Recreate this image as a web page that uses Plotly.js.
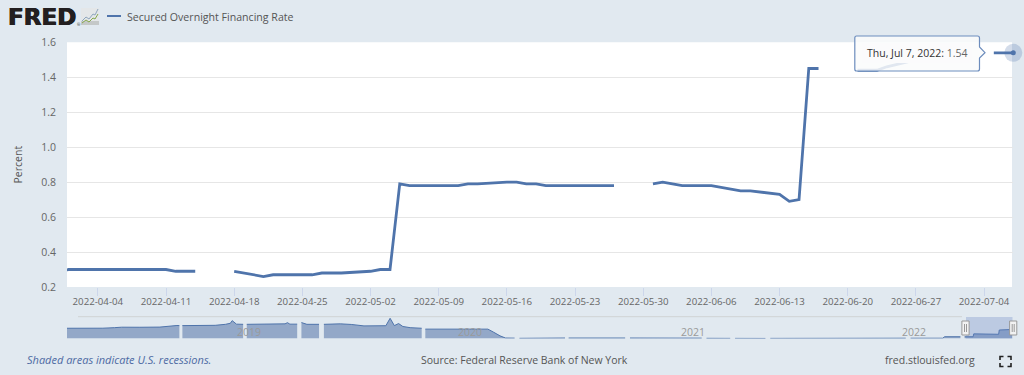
<!DOCTYPE html>
<html><head><meta charset="utf-8">
<script src="https://cdn.plot.ly/plotly-3.0.1.min.js"></script>
<style>html,body{margin:0;padding:0;background:#e1e9f0;overflow:hidden}#c{width:1024px;height:375px}</style>
</head><body><div id="c"></div>
<script>
const seriesName = 'Secured Overnight Financing Rate';
const dates = ['2022-03-31','2022-04-01','2022-04-04','2022-04-05','2022-04-06','2022-04-07','2022-04-08','2022-04-11','2022-04-12','2022-04-13','2022-04-14','2022-04-15',
'2022-04-18','2022-04-19','2022-04-20','2022-04-21','2022-04-22','2022-04-25','2022-04-26','2022-04-27','2022-04-28','2022-04-29',
'2022-05-02','2022-05-03','2022-05-04','2022-05-05','2022-05-06','2022-05-09','2022-05-10','2022-05-11','2022-05-12','2022-05-13',
'2022-05-16','2022-05-17','2022-05-18','2022-05-19','2022-05-20','2022-05-23','2022-05-24','2022-05-25','2022-05-26','2022-05-27',
'2022-05-30','2022-05-31','2022-06-01','2022-06-02','2022-06-03','2022-06-06','2022-06-07','2022-06-08','2022-06-09','2022-06-10',
'2022-06-13','2022-06-14','2022-06-15','2022-06-16','2022-06-17','2022-06-20','2022-06-21','2022-06-22','2022-06-23','2022-06-24',
'2022-06-27','2022-06-28','2022-06-29','2022-06-30','2022-07-01','2022-07-04','2022-07-05','2022-07-06','2022-07-07'];
const rates = [0.29,0.30,0.30,0.30,0.30,0.30,0.30,0.30,0.29,0.29,0.29,null,
0.29,0.28,0.27,0.26,0.27,0.27,0.27,0.28,0.28,0.28,
0.29,0.30,0.30,0.79,0.78,0.78,0.78,0.78,0.79,0.79,
0.80,0.80,0.79,0.79,0.78,0.78,0.78,0.78,0.78,0.78,
null,0.79,0.80,0.79,0.78,0.78,0.77,0.76,0.75,0.75,
0.73,0.69,0.70,1.45,1.45,null,1.44,1.44,1.44,1.46,
1.50,1.50,1.50,1.50,1.53,null,1.54,1.54,1.54];
const tickDates = ['2022-04-04','2022-04-11','2022-04-18','2022-04-25','2022-05-02','2022-05-09','2022-05-16','2022-05-23','2022-05-30','2022-06-06','2022-06-13','2022-06-20','2022-06-27','2022-07-04'];
const yTicks = [0.2,0.4,0.6,0.8,1.0,1.2,1.4,1.6];
const yLabels = ['0.2','0.4','0.6','0.8','1.0','1.2','1.4','1.6'];
const navDates = ['2018-04-03','2018-05-01','2018-06-01','2018-06-20','2018-07-02','2018-08-01','2018-09-03','2018-10-01','2018-10-05','2018-10-08','2018-10-10','2018-11-01','2018-12-03','2018-12-20','2018-12-28','2018-12-31','2019-01-07','2019-01-18','2019-01-21','2019-01-24','2019-02-15','2019-03-15','2019-03-28','2019-04-01','2019-04-05','2019-04-17','2019-04-20','2019-04-24','2019-04-29','2019-05-03','2019-05-23','2019-05-27','2019-05-31','2019-06-27','2019-07-15','2019-08-05','2019-09-10','2019-09-17','2019-09-24','2019-10-01','2019-10-08','2019-10-20','2019-11-08','2019-11-11','2019-11-14','2020-01-15','2020-02-25','2020-03-05','2020-03-16','2020-03-25','2020-04-09','2020-04-13','2020-04-17','2020-07-01','2020-07-03','2020-07-07','2020-10-08','2020-10-12','2020-10-16','2021-02-11','2021-02-15','2021-02-19','2021-03-30','2021-04-02','2021-04-07','2021-05-27','2021-05-31','2021-06-04','2021-09-01','2022-01-13','2022-01-17','2022-01-21','2022-03-15','2022-03-18','2022-04-13','2022-04-15','2022-04-20','2022-05-04','2022-05-05','2022-06-15','2022-06-16','2022-06-28','2022-06-29','2022-07-07'];
const navRates = [1.75,1.72,1.76,1.85,1.93,1.92,1.95,2.22,2.2,null,2.2,2.2,2.25,2.42,2.6,3.05,2.45,2.42,null,2.42,2.42,2.42,2.5,2.7,2.45,2.45,null,2.72,2.6,2.42,2.42,null,2.42,2.5,2.4,2.15,2.18,3.45,2.2,2.55,2.05,1.85,1.75,null,1.6,1.58,1.6,1.1,0.45,0.08,0.06,null,0.03,0.08,null,0.08,0.08,null,0.08,0.06,null,0.03,0.02,null,0.02,0.01,null,0.02,0.05,0.05,null,0.05,0.05,0.3,0.3,null,0.3,0.3,0.79,0.72,1.45,1.47,1.53,1.54];
const yearLabels = ['2019','2020','2021','2022'];
const yearDates = ['2019-01-01','2020-01-01','2021-01-01','2022-01-01'];

const W = 1024, H = 375;
const px = v => v / W, py = v => 1 - v / H;
const lineC = '#4f74ab';
function path(d, extra){
  const scaled = d.replace(/(-?[\d.]+) (-?[\d.]+)/g, (m,a,b)=> (a/W)+' '+(1-b/H));
  return Object.assign({type:'path', xref:'paper', yref:'paper', path:scaled, line:{width:0}, layer:'above'}, extra||{});
}
function rect(x0,y0,x1,y1,extra){
  return Object.assign({type:'rect', xref:'paper', yref:'paper', x0:px(x0), x1:px(x1), y0:py(y0), y1:py(y1), line:{width:0}, layer:'above'}, extra||{});
}
function txt(x,y,text,size,color,anchor,extra){
  return Object.assign({xref:'paper', yref:'paper', x:px(x), y:py(y), text:text, showarrow:false, xanchor:anchor||'left', yanchor:'middle',
    font:{family:'"Open Sans", sans-serif', size:size, color:color}, borderpad:0}, extra||{});
}
const last = dates.length - 1;
// navigator: one filled trace for each unbroken run, since a single filled trace closes over its gaps
const navRuns = [];
let run = null;
navDates.forEach((d,i)=>{
  if(navRates[i] === null){ run = null; return; }
  if(!run){ run = {x:[],y:[]}; navRuns.push(run); }
  run.x.push(d); run.y.push(navRates[i]);
});
const navTraces = navRuns.map(r=>({type:'scatter', mode:'lines', x:r.x, y:r.y, xaxis:'x2', yaxis:'y2', fill:'tozeroy',
   fillcolor:'rgba(69,103,160,0.5)', line:{color:'#4f74ab', width:1}, hoverinfo:'skip', showlegend:false}));
const traces = [
  {type:'scatter', mode:'lines', x:dates, y:rates, name:seriesName, xaxis:'x', yaxis:'y', connectgaps:false,
   line:{color:lineC, width:2.8}, hoverinfo:'skip', cliponaxis:true},
  {type:'scatter', mode:'markers', x:[dates[last]], y:[rates[last]], xaxis:'x', yaxis:'y', cliponaxis:false,
   marker:{size:18, color:'rgba(79,116,171,0.25)', line:{width:0}}, hoverinfo:'skip', showlegend:false},
  {type:'scatter', mode:'markers', x:[dates[last]], y:[rates[last]], xaxis:'x', yaxis:'y', cliponaxis:false,
   marker:{size:5, color:lineC, line:{width:0}}, hoverinfo:'skip', showlegend:false},
  ...navTraces
];
const handle = (c) => [
  rect(c-3.6,321,c+3.6,335,{fillcolor:'#f2f2f2', line:{color:'#999999', width:1}}),
  {type:'line', xref:'paper', yref:'paper', x0:px(c-1), x1:px(c-1), y0:py(324), y1:py(332), line:{color:'#999999', width:1}, layer:'above'},
  {type:'line', xref:'paper', yref:'paper', x0:px(c+1), x1:px(c+1), y0:py(324), y1:py(332), line:{color:'#999999', width:1}, layer:'above'}
];
const shapes = [
  // main plot panel
  rect(67,42.3,1012,287,{fillcolor:'#ffffff', layer:'below'}),
  // legend key
  {type:'line', xref:'paper', yref:'paper', x0:px(107), x1:px(121), y0:py(16), y1:py(16), line:{color:lineC, width:2}},
  // logo icon
  rect(81,8,99,25,{fillcolor:'#e4e7e9'}),
  rect(81,21,99,25,{fillcolor:'#c4c8c8'}),
  path('M 82 21 L 86 17 L 89 19 L 93 14 L 95 15 L 98 9',{line:{color:'#8fa6bd', width:1}}),
  path('M 82 23 L 86 20 L 89 22 L 93 18 L 95 19 L 98 14',{line:{color:'#86a84e', width:1}}),
  // navigator outline
  {type:'line', xref:'paper', yref:'paper', x0:px(78), x1:px(962), y0:py(316.7), y1:py(316.7), line:{color:'#cfd3d4', width:1}},
  // navigator selection
  rect(966,317,1012.5,338.5,{fillcolor:'rgba(102,133,194,0.3)'}),
  ...handle(965.5), ...handle(1013.2),
  // tooltip
  path('M 856.5 36 L 977.5 36 Q 979.5 36 979.5 38 L 979.5 47 L 985 52.7 L 979.5 58 L 979.5 69 Q 979.5 71 977.5 71 L 856.5 71 Q 854.8 71 854.8 69 L 854.8 38 Q 854.8 36 856.5 36 Z',
    {fillcolor:'rgba(250,251,252,0.85)', line:{color:'#6d8dbd', width:1.2}}),
  rect(862,43,972,63,{fillcolor:'#fbfbfc'}),
  // fullscreen icon
  path('M 1000 360 L 1000 356.5 L 1003.5 356.5',{line:{color:'#222222', width:1.6}}),
  path('M 1007.5 356.5 L 1011 356.5 L 1011 360',{line:{color:'#222222', width:1.6}}),
  path('M 1000 363 L 1000 366.5 L 1003.5 366.5',{line:{color:'#222222', width:1.6}}),
  path('M 1007.5 366.5 L 1011 366.5 L 1011 363',{line:{color:'#222222', width:1.6}})
];
const annotations = [
  txt(7,16.5,'<b>FRED</b>',23,'#231f20','left',{font:{family:'"DejaVu Sans", sans-serif', size:23, color:'#231f20', shadow:'0.5px 0 0 #231f20, -0.5px 0 0 #231f20'}}),
  txt(76,24,'®',4,'#231f20'),
  txt(125.5,16.5,seriesName,10.6,'#555555'),
  txt(865.5,53,'Thu, Jul 7, 2022:<span style="color:#666666"> 1.54</span>',10.5,'#333333'),
  txt(26,359.5,'<i>Shaded areas indicate U.S. recessions.</i>',11,'#4d6aa3'),
  txt(524.5,359.5,'Source: Federal Reserve Bank of New York',10.5,'#555555','center'),
  txt(884,359.5,'fred.stlouisfed.org',10.5,'#555555'),
  ...yearLabels.map((t,i)=>({xref:'x2', yref:'paper', x:yearDates[i], y:py(331.5), text:t, showarrow:false, xanchor:'left', yanchor:'middle', xshift:2,
      font:{family:'"Open Sans", sans-serif', size:10.5, color:'#9a9a9a'}}))
];
const layout = {
  width:W, height:H, margin:{l:0,r:0,t:0,b:0,pad:0}, showlegend:false,
  paper_bgcolor:'#e1e9f0', plot_bgcolor:'rgba(0,0,0,0)',
  xaxis:{domain:[px(67),px(1013.3)], type:'date', range:['2022-03-31 20:00','2022-07-07 00:00'], tickvals:tickDates, ticktext:tickDates,
    ticks:'outside', ticklen:8, tickwidth:1, tickcolor:'#ccd6eb', showgrid:false, zeroline:false, showline:false, anchor:'y',
    tickfont:{family:'"Open Sans", sans-serif', size:9.7, color:'#666666'}, tickangle:0, automargin:false, ticklabelstandoff:-3},
  yaxis:{domain:[py(287),py(42.3)], range:[0.2,1.6], tickvals:yTicks, ticktext:yLabels, gridcolor:'#e6e6e6', gridwidth:1, zeroline:false,
    showline:false, ticks:'', anchor:'x', automargin:false, tickfont:{family:'"Open Sans", sans-serif', size:10.5, color:'#666666'},
    ticklabelstandoff:10,
    title:{text:'Percent', standoff:16, font:{family:'"Open Sans", sans-serif', size:10.5, color:'#555555'}}},
  xaxis2:{domain:[px(67),px(1012)], type:'date', range:['2018-04-03','2022-07-07'], visible:false, anchor:'y2'},
  yaxis2:{domain:[py(338.5),py(317)], range:[0,3.67], visible:false, anchor:'x2'},
  shapes:shapes, annotations:annotations
};
Plotly.newPlot('c', traces, layout, {displayModeBar:false, staticPlot:true});
</script></body></html>
